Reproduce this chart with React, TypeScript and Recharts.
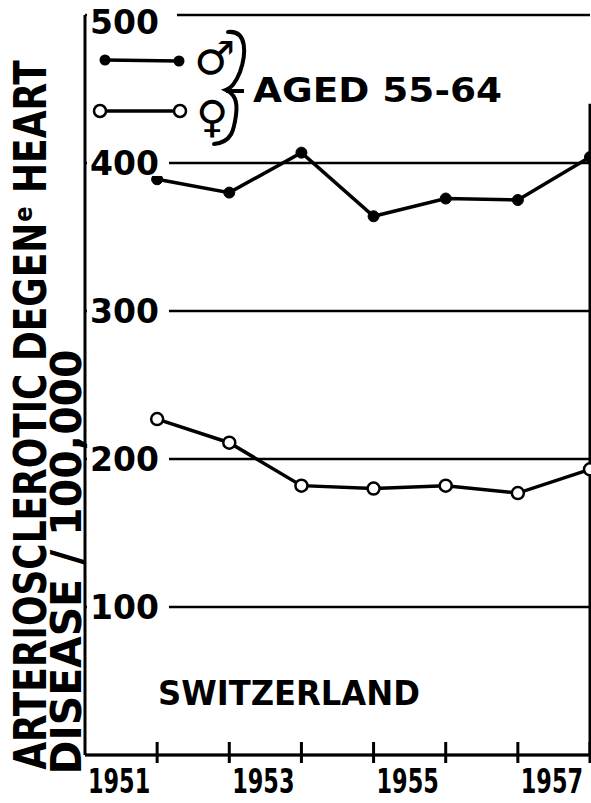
import React from 'react';
import { LineChart, Line, XAxis, YAxis, CartesianGrid, ReferenceLine, Legend } from 'recharts';

const years = [1951, 1952, 1953, 1954, 1955, 1956, 1957];
const maleRate = [389, 380, 407, 364, 376, 375, 404];
const femaleRate = [227, 211, 182, 180, 182, 177, 193];
const yearLabels = [1951, 1953, 1955, 1957];
const rateTicks = [100, 200, 300, 400, 500];

const INK = '#000';
const FONT = '"DejaVu Sans", sans-serif';
const NARROW = '"DejaVu Sans Condensed", "DejaVu Sans", sans-serif';

const data = years.map((year, i) => ({ year, male: maleRate[i], female: femaleRate[i] }));

// tick marks sit on the years, the labels sit half a year to the left
const xTicks = [...years, ...yearLabels.map((y) => y - 0.5)];

const YearTick = ({ x, y, payload }: any) => {
  const v = payload.value;
  if (v % 1 !== 0) {
    return (
      <text transform={`translate(${x - 2},${y + 38}) scale(0.75,1)`} textAnchor="middle" fontFamily={NARROW}
        fontWeight="bold" fontSize={34} textLength={83} lengthAdjust="spacingAndGlyphs" fill={INK}>
        {v + 0.5}
      </text>
    );
  }
  return <line x1={x} y1={y - 13} x2={x} y2={y + 8} stroke={INK} strokeWidth={3} />;
};

const RateTick = ({ x, y, payload }: any) => {
  const top = payload.value === 500;
  return (
    <g>
      <rect x={x - 3} y={y - 13} width={top ? 90 : 82} height={26} fill="#fff" />
      <text x={x} y={y + (top ? 7 : 0)} dy="0.36em" fontFamily={FONT} fontWeight="bold" fontSize={33} fill={INK}>
        {payload.value}
      </text>
    </g>
  );
};

const KeyBox = () => (
  <svg width={591} height={160}>
    <line x1={105} y1={60} x2={179} y2={61} stroke={INK} strokeWidth={3.5} />
    <circle cx={105} cy={60} r={5.5} fill={INK} />
    <circle cx={179} cy={61} r={5.5} fill={INK} />
    <line x1={100} y1={111} x2={180} y2={111} stroke={INK} strokeWidth={3.5} />
    <circle cx={100} cy={111} r={6} fill="#fff" stroke={INK} strokeWidth={2.5} />
    <circle cx={180} cy={111} r={6} fill="#fff" stroke={INK} strokeWidth={2.5} />
    <text x={194} y={74} fontFamily={FONT} fontWeight="bold" fontSize={46} fill={INK}>♂</text>
    <text x={196} y={132} fontFamily={FONT} fontWeight="bold" fontSize={44} fill={INK}>♀</text>
    <path d="M 228 32 C 248 30, 246 55, 240 72 C 236 82, 232 88, 226 90 C 234 94, 238 100, 236 115 C 234 130, 232 142, 214 144"
      fill="none" stroke={INK} strokeWidth={4} strokeLinecap="round" />
    <line x1={226} y1={91} x2={244} y2={91} stroke={INK} strokeWidth={4} />
    <text x={253} y={102} fontFamily={FONT} fontWeight="bold" fontSize={34} textLength={249}
      lengthAdjust="spacingAndGlyphs" fill={INK}>
      AGED 55-64
    </text>
  </svg>
);

export default function App() {
  return (
    <div style={{ position: 'absolute', left: 0, top: 0, width: 591, height: 803, background: '#fff' }}>
      <LineChart width={591} height={803} data={data} margin={{ top: 15, right: 1, bottom: 0, left: 85 }}>
        <CartesianGrid vertical={false} stroke={INK} strokeWidth={2.5} />
        <XAxis type="number" dataKey="year" domain={[1950, 1957]} ticks={xTicks} interval={0}
          tickSize={0} tickMargin={0} height={48} tick={<YearTick />}
          axisLine={{ stroke: INK, strokeWidth: 3 }} />
        <YAxis type="number" domain={[0, 500]} ticks={rateTicks} interval={0} mirror
          tickSize={0} tickMargin={5} tickLine={false} tick={<RateTick />}
          axisLine={{ stroke: INK, strokeWidth: 3 }} />
        <ReferenceLine segment={[{ x: 1957, y: 0 }, { x: 1957, y: 440 }]} stroke={INK} strokeWidth={3} />
        <Legend layout="horizontal" verticalAlign="middle" align="center" content={() => <KeyBox />}
          wrapperStyle={{ position: 'absolute', left: 0, top: 0, width: 591, height: 160 }} />
        <Line type="linear" dataKey="male" stroke={INK} strokeWidth={3.5} isAnimationActive={false}
          dot={{ r: 5.5, fill: INK, stroke: INK, strokeWidth: 1 }} />
        <Line type="linear" dataKey="female" stroke={INK} strokeWidth={3.5} isAnimationActive={false}
          dot={{ r: 6, fill: '#fff', stroke: INK, strokeWidth: 2.5 }} />
      </LineChart>
      <svg width={591} height={803} style={{ position: 'absolute', left: 0, top: 0, pointerEvents: 'none' }}>
        <text transform="translate(46,415) rotate(-90) scale(0.8,1)" textAnchor="middle" fontFamily={NARROW}
          fontWeight="bold" fontSize={44} textLength={887} lengthAdjust="spacingAndGlyphs" fill={INK}>
          ARTERIOSCLEROTIC  DEGENᵉ HEART
        </text>
        <text transform="translate(81,562) rotate(-90) scale(0.9,1)" textAnchor="middle" fontFamily={NARROW}
          fontWeight="bold" fontSize={43} textLength={472} lengthAdjust="spacingAndGlyphs" fill={INK}>
          DISEASE / 100,000
        </text>
        <text x={158} y={705} fontFamily={FONT} fontWeight="bold" fontSize={34} textLength={262}
          lengthAdjust="spacingAndGlyphs" fill={INK}>
          SWITZERLAND
        </text>
      </svg>
    </div>
  );
}
